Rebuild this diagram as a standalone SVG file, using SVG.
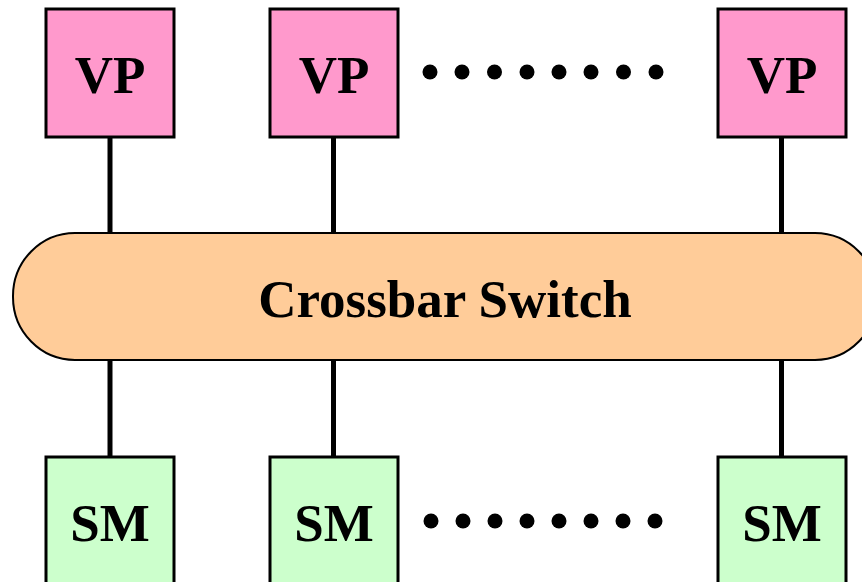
<svg xmlns="http://www.w3.org/2000/svg" width="862" height="582" viewBox="0 0 862 582">
<style>
.vp{fill:#FF99CC;stroke:#000;stroke-width:3}
.sm{fill:#CCFFCC;stroke:#000;stroke-width:3}
.lbl{font-family:"Liberation Serif",serif;font-weight:bold;font-size:53px;text-anchor:middle;fill:#000}
.wire{stroke:#000;stroke-width:5}
.dot{fill:#000}
</style>
<rect width="862" height="582" fill="#fff"/>
<g id="connectors">
<line class="wire" x1="110" y1="136" x2="110" y2="234"/>
<line class="wire" x1="333.5" y1="136" x2="333.5" y2="234"/>
<line class="wire" x1="781.5" y1="136" x2="781.5" y2="234"/>
<line class="wire" x1="110" y1="359" x2="110" y2="458"/>
<line class="wire" x1="333.5" y1="359" x2="333.5" y2="458"/>
<line class="wire" x1="781.5" y1="359" x2="781.5" y2="458"/>
</g>
<g id="switch">
<rect x="13" y="233" width="864" height="127" rx="62" ry="63" fill="#FFCC99" stroke="#000" stroke-width="2"/>
<text class="lbl" x="445" y="317">Crossbar Switch</text>
</g>
<g id="vp1"><rect class="vp" x="46" y="9" width="128" height="128"/><text class="lbl" x="110" y="93">VP</text></g>
<g id="vp2"><rect class="vp" x="270" y="9" width="128" height="128"/><text class="lbl" x="334" y="93">VP</text></g>
<g id="vp3"><rect class="vp" x="718" y="9" width="128" height="128"/><text class="lbl" x="782" y="93">VP</text></g>
<g id="sm1"><rect class="sm" x="46" y="457" width="128" height="140"/><text class="lbl" x="110" y="541">SM</text></g>
<g id="sm2"><rect class="sm" x="270" y="457" width="128" height="140"/><text class="lbl" x="334" y="541">SM</text></g>
<g id="sm3"><rect class="sm" x="718" y="457" width="128" height="140"/><text class="lbl" x="782" y="541">SM</text></g>
<g id="dots-top">
<circle class="dot" cx="430" cy="72" r="7.5"/><circle class="dot" cx="462" cy="72" r="7.5"/><circle class="dot" cx="494.5" cy="72" r="7.5"/><circle class="dot" cx="527" cy="72" r="7.5"/><circle class="dot" cx="559" cy="72" r="7.5"/><circle class="dot" cx="591" cy="72" r="7.5"/><circle class="dot" cx="623.5" cy="72" r="7.5"/><circle class="dot" cx="656" cy="72" r="7.5"/>
</g>
<g id="dots-bottom">
<circle class="dot" cx="431" cy="521" r="7.5"/><circle class="dot" cx="463" cy="521" r="7.5"/><circle class="dot" cx="495" cy="521" r="7.5"/><circle class="dot" cx="527" cy="521" r="7.5"/><circle class="dot" cx="559" cy="521" r="7.5"/><circle class="dot" cx="591" cy="521" r="7.5"/><circle class="dot" cx="623" cy="521" r="7.5"/><circle class="dot" cx="655" cy="521" r="7.5"/>
</g>
</svg>
